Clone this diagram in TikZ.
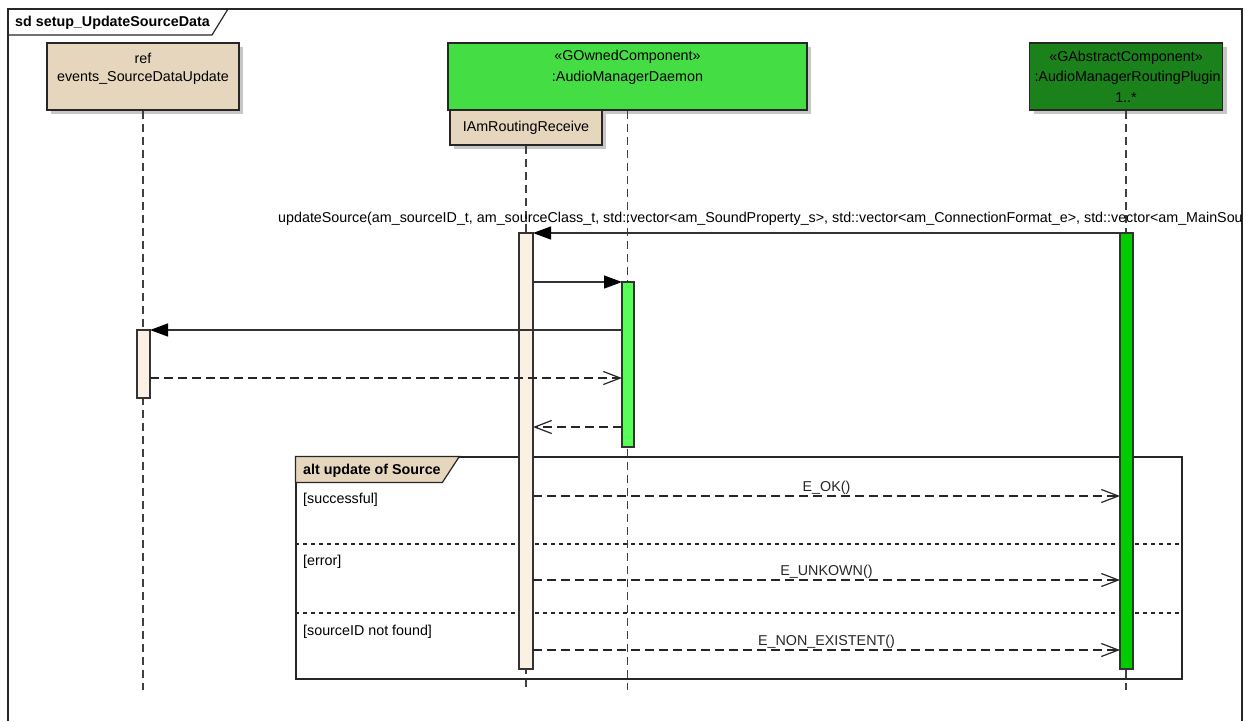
\documentclass[tikz,border=0pt]{standalone}
\usepackage{fontspec}
\setmainfont{Liberation Sans}
\usepackage{xcolor}
\usetikzlibrary{arrows.meta,positioning,shadows}
\definecolor{eatan}{RGB}{229,214,189}
\definecolor{eacream}{RGB}{250,240,228}
\definecolor{eagreen}{RGB}{68,221,68}
\definecolor{eaact}{RGB}{85,255,85}
\definecolor{eadark}{RGB}{27,130,27}
\definecolor{eaplug}{RGB}{0,204,0}

\begin{document}
\begin{tikzpicture}[
  x=1pt,y=-1pt,
  font=\fontsize{14.3}{19}\selectfont,
  eashadow/.style={drop shadow={shadow xshift=4pt,shadow yshift=-4pt,fill=black!22,opacity=1}},
  comp/.style={draw=black!85,line width=1.2pt,minimum height=67pt,align=center,inner sep=0pt,eashadow},
  iface/.style={draw=black!85,line width=1.2pt,fill=eatan,minimum width=152pt,minimum height=35pt,inner sep=0pt,eashadow},
  act/.style={draw=black!80,line width=1.2pt,inner sep=0pt,outer sep=0pt},
  life/.style={black!75,line width=1.2pt,dash pattern=on 8pt off 5pt},
  call/.style={black!80,line width=1.2pt,-{Triangle[length=18pt,width=13pt,color=black]}},
  reply/.style={black!85,line width=1.2pt,dash pattern=on 9pt off 5pt,-{Straight Barb[length=17pt,width=13pt]}},
  sep/.style={black!85,line width=1.2pt,dash pattern=on 4pt off 4pt},
  lbl/.style={inner sep=1pt},
  guard/.style={anchor=west,inner sep=0pt},
  tab/.style={font=\fontsize{14.3}{19}\selectfont\bfseries,anchor=west,inner sep=0pt}
]
  \fill[white] (0,0) rectangle (1246,721);
  \useasboundingbox (0,0) rectangle (1246,721);
  \draw[black!85,line width=1.2pt] (8,721) -- (8,9) -- (1242,9) -- (1242,721);
  \draw[black!85,line width=1.2pt] (8,35) -- (212,35) -- (228,9);
  \node[tab] (title) at (15,23) {sd setup\_UpdateSourceData};

  \node[comp,fill=eatan,minimum width=192pt,font=\fontsize{14.3}{18}\selectfont] (ref) at (143,76.5) {ref\\events\_SourceDataUpdate\\\mbox{}};
  \node[comp,fill=eagreen,minimum width=359pt,font=\fontsize{14.3}{21}\selectfont] (daem) at (627.5,76.5) {«GOwnedComponent»\\:AudioManagerDaemon\\\mbox{}};
  \node[iface] (iam) at (526,127.5) {IAmRoutingReceive};
  \node[comp,fill=eadark,minimum width=193pt,text width=183pt,font=\fontsize{14.3}{20.5}\selectfont] (plug) at (1126,76.5) {«GAbstractComponent»\\:AudioManagerRoutingPlugin\\1..*};

  \coordinate (bot) at (0,690);
  \draw[life] (ref.south) -- (ref.south |- bot);
  \draw[life] (daem.south) -- (daem.south |- bot);
  \draw[life] (iam.south) -- (iam.south |- bot);
  \draw[life] (plug.south) -- (plug.south |- bot);

  \node[draw=black!85,line width=1.2pt,minimum width=886pt,minimum height=222pt,inner sep=0pt] (alt) at (739,568) {};
  \draw[black!85,line width=1.2pt,fill=eatan] (alt.north west) -- ++(164,0) -- ++(-17,26) -- ++(-147,0) -- cycle;
  \node[tab] (altlbl) at (303,471) {alt update of Source};
  \coordinate (d1) at (0,544);
  \coordinate (d2) at (0,613);
  \draw[sep] (alt.west |- d1) -- (alt.east |- d1);
  \draw[sep] (alt.west |- d2) -- (alt.east |- d2);
  \node[guard] (g1) at (303,500) {[successful]};
  \node[guard] (g2) at (303,562) {[error]};
  \node[guard] (g3) at (303,632) {[sourceID not found]};

  \node[act,fill=eacream,minimum width=13pt,minimum height=68pt] (act1) at (143.5,364) {};
  \node[act,fill=eacream,minimum width=14pt,minimum height=436pt] (act2) at (526,451) {};
  \node[act,fill=eaact,minimum width=12pt,minimum height=165pt] (act3) at (628,364.5) {};
  \node[act,fill=eaplug,minimum width=13pt,minimum height=436pt] (act4) at (1126.5,451) {};

  \begin{scope}
    \clip (8,9) rectangle (1242,721);
    \node[anchor=base west,inner sep=0pt] (upd) at (278,222) {updateSource(am\_sourceID\_t, am\_sourceClass\_t, std::vector<am\_SoundProperty\_s>, std::vector<am\_ConnectionFormat\_e>, std::vector<am\_MainSou};
  \end{scope}
  \draw[call] (act4.north west) -- (act2.north east);
  \draw[call] (act2.east |- act3.north) -- (act3.north west);
  \draw[call] (act3.west |- act1.north) -- (act1.north east);
  \coordinate (y4) at (0,378);
  \coordinate (y5) at (0,427);
  \draw[reply] (act1.east |- y4) -- (act3.west |- y4);
  \draw[reply] (act3.west |- y5) -- (act2.east |- y5);

  \coordinate (r1) at (0,496);
  \coordinate (r2) at (0,580);
  \coordinate (r3) at (0,650);
  \draw[reply] (act2.east |- r1) -- node[lbl,above] (ok) {E\_OK()} (act4.west |- r1);
  \draw[reply] (act2.east |- r2) -- node[lbl,above] (unk) {E\_UNKOWN()} (act4.west |- r2);
  \draw[reply] (act2.east |- r3) -- node[lbl,above] (nex) {E\_NON\_EXISTENT()} (act4.west |- r3);
\end{tikzpicture}
\end{document}
